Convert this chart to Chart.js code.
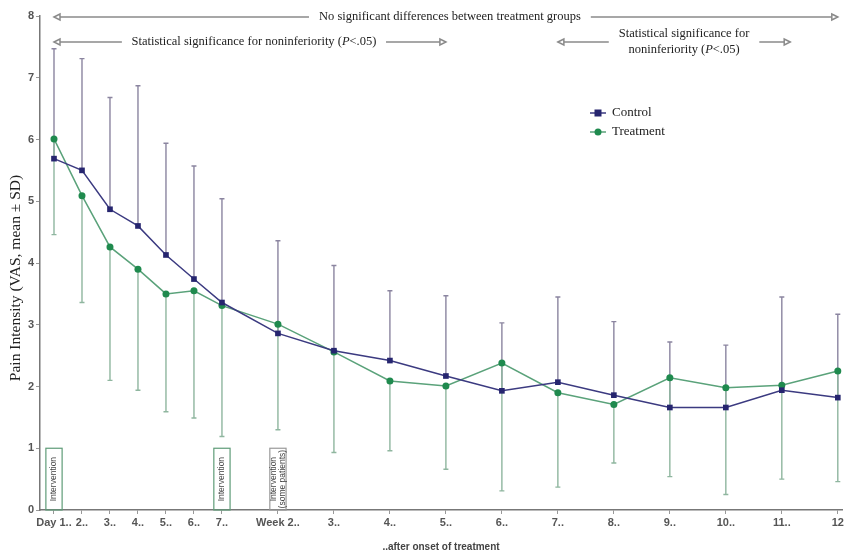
<!DOCTYPE html>
<html>
<head>
<meta charset="utf-8">
<script src="https://cdn.jsdelivr.net/npm/chart.js@4/dist/chart.umd.min.js"></script>
<style>
  html, body { margin: 0; padding: 0; background: #fff; }
  #painChart { display: block; }
</style>
</head>
<body>
<canvas id="painChart" width="846" height="554"></canvas>
<script>
// positions on the (compressed) time axis: days 1-7, then weeks 2-12
const xPos = [1, 2, 3, 4, 5, 6, 7, 9, 11, 13, 15, 17, 19, 21, 23, 25, 27, 29];
const tickLabels = ['Day 1..', '2..', '3..', '4..', '5..', '6..', '7..', 'Week 2..', '3..', '4..', '5..', '6..', '7..', '8..', '9..', '10..', '11..', '12'];

const controlMean = [5.69, 5.50, 4.87, 4.60, 4.13, 3.74, 3.36, 2.86, 2.58, 2.42, 2.17, 1.93, 2.07, 1.86, 1.66, 1.66, 1.94, 1.82];
const controlSD = [1.78, 1.81, 1.81, 2.27, 1.81, 1.83, 1.68, 1.50, 1.38, 1.13, 1.30, 1.10, 1.38, 1.19, 1.06, 1.01, 1.51, 1.35];
const treatmentMean = [6.01, 5.09, 4.26, 3.90, 3.50, 3.55, 3.31, 3.01, 2.56, 2.09, 2.01, 2.38, 1.90, 1.71, 2.14, 1.98, 2.02, 2.25];
const treatmentSD = [1.55, 1.73, 2.16, 1.96, 1.91, 2.06, 2.12, 1.71, 1.63, 1.13, 1.35, 2.07, 1.53, 0.95, 1.60, 1.73, 1.52, 1.79];

const interventions = [
    { x: 1, lines: ['Intervention'], color: '#5f9c78' },
    { x: 7, lines: ['Intervention'], color: '#5f9c78' },
    { x: 9, lines: ['Intervention', '(some patients)'], color: '#9a9a9a' }
];

// x ranges for the arrows at the top
const spans = [
    { from: 1, to: 29, row: 17, text: ['No significant differences between treatment groups'] },
    { from: 1, to: 15, row: 42, text: ['Statistical significance for noninferiority (P<.05)'] },
    { from: 19, to: 27.3, row: 42, text: ['Statistical significance for', 'noninferiority (P<.05)'] }
];

const serif = '"Liberation Serif", "DejaVu Serif", serif';
const sans = '"Liberation Sans", Arial, sans-serif';
const annoFont = '12.5px ' + serif;

// draws text, italicising a "P" before "<"
function drawRich(ctx, str, cx, cy) {
    const idx = str.indexOf('P<');
    ctx.textBaseline = 'middle';
    ctx.textAlign = 'left';
    ctx.font = annoFont;
    if (idx < 0) {
        const w = ctx.measureText(str).width;
        ctx.fillText(str, cx - w / 2, cy);
        return w;
    }
    const a = str.slice(0, idx), b = 'P', c = str.slice(idx + 1);
    const wa = ctx.measureText(a).width, wc = ctx.measureText(c).width;
    ctx.font = 'italic ' + annoFont;
    const wb = ctx.measureText(b).width;
    const w = wa + wb + wc;
    const x0 = cx - w / 2;
    ctx.font = annoFont;
    ctx.fillText(a, x0, cy);
    ctx.font = 'italic ' + annoFont;
    ctx.fillText(b, x0 + wa, cy);
    ctx.font = annoFont;
    ctx.fillText(c, x0 + wa + wb, cy);
    return w;
}

function arrowHead(ctx, x, y, dir) {
    ctx.beginPath();
    ctx.moveTo(x, y);
    ctx.lineTo(x - dir * 6, y - 3);
    ctx.lineTo(x - dir * 6, y + 3);
    ctx.closePath();
    ctx.fillStyle = '#fff';
    ctx.fill();
    ctx.stroke();
}

const errorBars = {
    id: 'errorBars',
    beforeDatasetsDraw(chart) {
        const { ctx, scales: { x, y } } = chart;
        ctx.save();
        ctx.lineWidth = 1.4;
        const bar = (px, y1, y2, color) => {
            ctx.strokeStyle = color;
            ctx.beginPath();
            ctx.moveTo(px, y1);
            ctx.lineTo(px, y2);
            ctx.moveTo(px - 2.5, y2);
            ctx.lineTo(px + 2.5, y2);
            ctx.stroke();
        };
        xPos.forEach((xv, i) => {
            const px = x.getPixelForValue(xv);
            bar(px, y.getPixelForValue(controlMean[i]), y.getPixelForValue(controlMean[i] + controlSD[i]), '#8b85a0');
            bar(px, y.getPixelForValue(treatmentMean[i]), y.getPixelForValue(treatmentMean[i] - treatmentSD[i]), '#8fb69f');
        });
        ctx.restore();
    }
};

const annotations = {
    id: 'annotations',
    afterDraw(chart) {
        const { ctx, scales: { x, y } } = chart;
        ctx.save();

        // y axis title, sitting a little below the middle as in the original
        ctx.save();
        ctx.translate(16, 278);
        ctx.rotate(-Math.PI / 2);
        ctx.fillStyle = '#222';
        ctx.font = '15.5px ' + serif;
        ctx.textAlign = 'center';
        ctx.textBaseline = 'middle';
        ctx.fillText('Pain Intensity (VAS, mean ± SD)', 0, 0);
        ctx.restore();

        // intervention boxes
        interventions.forEach(iv => {
            const x1 = x.getPixelForValue(iv.x - 0.29), x2 = x.getPixelForValue(iv.x + 0.29);
            const y1 = y.getPixelForValue(1), y2 = y.getPixelForValue(0);
            ctx.strokeStyle = iv.color;
            ctx.lineWidth = 1.2;
            ctx.strokeRect(x1, y1, x2 - x1, y2 - y1);
            ctx.save();
            ctx.translate((x1 + x2) / 2, (y1 + y2) / 2);
            ctx.rotate(-Math.PI / 2);
            ctx.fillStyle = '#444';
            ctx.font = '8.5px ' + sans;
            ctx.textAlign = 'center';
            ctx.textBaseline = 'middle';
            const n = iv.lines.length;
            iv.lines.forEach((t, k) => ctx.fillText(t, 0, (k - (n - 1) / 2) * 9));
            ctx.restore();
        });

        // arrows at the top
        ctx.strokeStyle = '#8a8a8a';
        ctx.lineWidth = 1.5;
        spans.forEach(s => {
            const xa = x.getPixelForValue(s.from), xb = x.getPixelForValue(s.to);
            const cx = (xa + xb) / 2 + (s.text.length > 1 ? 10 : 4);
            ctx.font = annoFont;
            let w = 0;
            s.text.forEach(t => { w = Math.max(w, ctx.measureText(t).width); });
            const gap = 10;
            ctx.beginPath();
            ctx.moveTo(xa, s.row);
            ctx.lineTo(cx - w / 2 - gap, s.row);
            ctx.moveTo(cx + w / 2 + gap, s.row);
            ctx.lineTo(xb, s.row);
            ctx.stroke();
            arrowHead(ctx, xa, s.row, -1);
            arrowHead(ctx, xb, s.row, 1);
            ctx.fillStyle = '#222';
            const n = s.text.length;
            s.text.forEach((t, k) => drawRich(ctx, t, cx, s.row + (k - (n - 1) / 2) * 16));
        });

        // legend
        const items = [
            { label: 'Control', line: '#3b3a80', fill: '#26256f', style: 'rect' },
            { label: 'Treatment', line: '#5aa27a', fill: '#1f8a4e', style: 'circle' }
        ];
        items.forEach((it, k) => {
            const ly = 113 + k * 19;
            ctx.strokeStyle = it.line;
            ctx.lineWidth = 1.5;
            ctx.beginPath();
            ctx.moveTo(590, ly);
            ctx.lineTo(606, ly);
            ctx.stroke();
            ctx.fillStyle = it.fill;
            if (it.style === 'rect') {
                ctx.fillRect(594.5, ly - 3.5, 7, 7);
            } else {
                ctx.beginPath();
                ctx.arc(598, ly, 3.5, 0, Math.PI * 2);
                ctx.fill();
            }
            ctx.fillStyle = '#222';
            ctx.font = '13px ' + serif;
            ctx.textAlign = 'left';
            ctx.textBaseline = 'middle';
            ctx.fillText(it.label, 612, ly);
        });

        ctx.restore();
    }
};

const ctx = document.getElementById('painChart').getContext('2d');
new Chart(ctx, {
    type: 'line',
    data: {
        datasets: [{
            label: 'Control',
            data: xPos.map((v, i) => ({ x: v, y: controlMean[i] })),
            borderColor: '#3b3a80',
            borderWidth: 1.5,
            pointStyle: 'rect',
            pointRadius: 4,
            pointBackgroundColor: '#26256f',
            pointBorderColor: '#26256f',
            pointBorderWidth: 0
        }, {
            label: 'Treatment',
            data: xPos.map((v, i) => ({ x: v, y: treatmentMean[i] })),
            borderColor: '#5aa27a',
            borderWidth: 1.5,
            pointStyle: 'circle',
            pointRadius: 3.5,
            pointBackgroundColor: '#1f8a4e',
            pointBorderColor: '#1f8a4e',
            pointBorderWidth: 0
        }]
    },
    options: {
        responsive: false,
        animation: false,
        layout: { padding: { top: 16, right: 0, left: 0, bottom: 0 } },
        plugins: {
            legend: { display: false },
            tooltip: { enabled: false }
        },
        scales: {
            x: {
                type: 'linear',
                min: 0.5,
                max: 29.15,
                afterBuildTicks: s => { s.ticks = xPos.map(v => ({ value: v })); },
                afterFit: s => { s.height = 44; },
                ticks: {
                    autoSkip: false,
                    maxRotation: 0,
                    padding: 2,
                    color: '#555',
                    font: { family: sans, size: 11, weight: 'bold' },
                    callback: (v, i) => tickLabels[i]
                },
                grid: { drawOnChartArea: false, tickLength: 4, color: '#999' },
                border: { color: '#777', width: 1.5 },
                title: {
                    display: true,
                    text: '..after onset of treatment',
                    color: '#444',
                    font: { family: sans, size: 10, weight: 'bold' },
                    padding: { top: 6, bottom: 1 }
                }
            },
            y: {
                min: 0,
                max: 8,
                afterFit: s => { s.width = 40; },
                ticks: {
                    stepSize: 1,
                    padding: 2,
                    color: '#555',
                    font: { family: sans, size: 11, weight: 'bold' }
                },
                grid: { drawOnChartArea: false, tickLength: 4, color: '#999' },
                border: { color: '#777', width: 1.5 }
            }
        }
    },
    plugins: [errorBars, annotations]
});
</script>
</body>
</html>
